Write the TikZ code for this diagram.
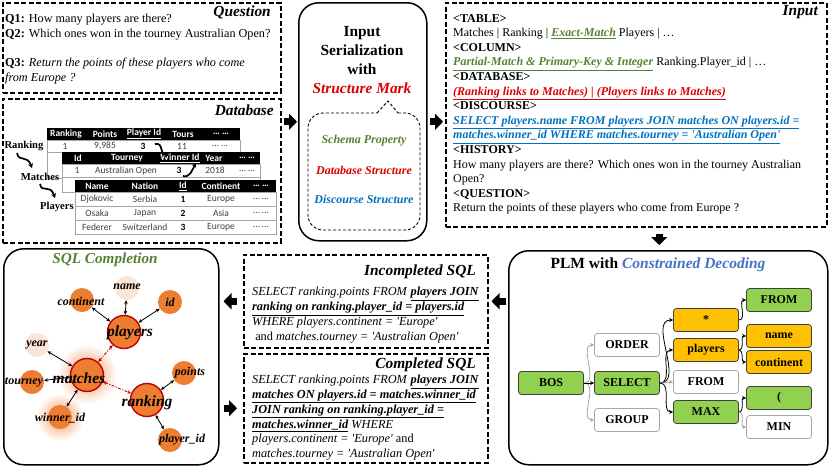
\documentclass[tikz,border=0pt]{standalone}
\usepackage{fontspec}
\setmainfont{Liberation Serif}[Ligatures=TeXOff]
\newfontfamily\calib{Carlito}
\usetikzlibrary{arrows.meta,calc}
\definecolor{sgreen}{RGB}{84,130,53}
\definecolor{sred}{RGB}{220,0,0}
\definecolor{sblue}{RGB}{0,112,192}
\definecolor{lblue}{RGB}{68,114,196}
\definecolor{ngreen}{RGB}{146,208,80}
\definecolor{norange}{RGB}{255,192,0}
\definecolor{corange}{RGB}{237,125,49}
\definecolor{clight}{RGB}{251,229,214}
\definecolor{cred}{RGB}{192,0,0}
\definecolor{tgray}{RGB}{64,64,64}
\definecolor{ngray}{RGB}{166,166,166}
\definecolor{glow}{RGB}{242,150,95}
\begin{document}
\begin{tikzpicture}[x=1pt,y=-1pt,
  dbox/.style={draw, line width=1.5pt, dash pattern=on 5pt off 2.5pt, inner sep=0pt, anchor=north west},
  rbox/.style={draw, line width=1.5pt, rounded corners=20pt, inner sep=0pt, anchor=north west},
  barrow/.style={line width=7pt, -{Triangle[length=8pt,width=16pt]}},
  ttl/.style={font=\fontsize{15.4}{17}\selectfont\bfseries\itshape, inner sep=0pt},
  body/.style={font=\fontsize{12}{14.6}\selectfont, align=left, inner sep=0pt, anchor=north west},
  sqlb/.style={font=\fontsize{12.3}{15}\selectfont, align=left, inner sep=0pt, anchor=north west},
  th/.style={font=\calib\fontsize{9.5}{10}\selectfont\bfseries, text=white, inner sep=0pt},
  td/.style={font=\calib\fontsize{9.5}{10}\selectfont, text=tgray, inner sep=0pt},
  tlab/.style={font=\fontsize{10.6}{12}\selectfont\bfseries, inner sep=0pt},
  sqa/.style={line width=1.7pt, -{Stealth[length=4.5pt,width=5pt]}},
  pn/.style={draw, rounded corners=3pt, minimum width=65pt, minimum height=23pt, inner sep=0pt, font=\fontsize{12}{13}\selectfont\bfseries, line width=0.8pt},
  gn/.style={pn, fill=ngreen, draw=black!75},
  on/.style={pn, fill=norange, draw=black!75},
  wn/.style={pn, fill=white, draw=ngray},
  pe/.style={line width=0.8pt, -{Stealth[length=4pt,width=4pt]}},
  pg/.style={pe, draw=ngray},
  cbig/.style={circle, draw=cred, line width=1.4pt, fill=corange, minimum size=33pt, inner sep=0pt},
  csm/.style={circle, fill=corange, minimum size=24pt, inner sep=0pt},
  gl/.style={font=\fontsize{12}{13}\selectfont\bfseries\itshape, inner sep=0pt},
  gbig/.style={font=\fontsize{15.5}{17}\selectfont\bfseries\itshape, inner sep=0pt},
  ga/.style={line width=0.8pt, {Stealth[length=4pt,width=3.5pt]}-{Stealth[length=4pt,width=3.5pt]}},
  redarr/.style={line width=0.9pt, draw=cred, dash pattern=on 3pt off 1.5pt on 1pt off 1.5pt, {Stealth[length=4pt,width=3.5pt]}-{Stealth[length=4pt,width=3.5pt]}}
]
\useasboundingbox (0,0) rectangle (830,467);
\newcommand{\sqt}{'}

% ---------- main boxes ----------
\node[dbox, minimum width=278pt, minimum height=90pt] (q) at (2,2) {};
\node[dbox, minimum width=278pt, minimum height=144pt] (db) at (2,98) {};
\node[rbox, minimum width=128pt, minimum height=238pt] (ser) at (298,2) {};
\node[dbox, minimum width=381pt, minimum height=224pt] (inp) at (445,2) {};
\node[rbox, minimum width=319pt, minimum height=214pt] (plm) at (508,250) {};
\node[dbox, minimum width=244pt, minimum height=93pt] (inc) at (243,254) {};
\node[dbox, minimum width=244pt, minimum height=109pt] (comp) at (243,353) {};
\node[rbox, minimum width=215pt, minimum height=216pt] (sqlc) at (3,248) {};

% ---------- block arrows ----------
\draw[barrow, shorten <=2pt, shorten >=1pt] (db.east |- ser.west) -- (ser.west);
\draw[barrow, shorten <=2pt, shorten >=2pt] (ser.east) -- (ser.east -| inp.west);
\draw[barrow, shorten <=6pt, shorten >=5pt] ([xshift=-9pt]plm.north |- inp.south) -- ([xshift=-9pt]plm.north);
\draw[barrow, shorten <=2pt, shorten >=3pt] (inc.east -| plm.west) -- (inc.east);
\draw[barrow, shorten <=6pt, shorten >=4pt] (inc.west) -- (inc.west -| sqlc.east);
\draw[barrow, shorten <=4pt, shorten >=6pt] (comp.west -| sqlc.east) -- (comp.west);

% ---------- Question ----------
\node[ttl, anchor=east] (qt) at (271,12) {Question};
\node[body, font=\fontsize{12.2}{14.7}\selectfont] (qb) at (5,14) {\textbf{Q1:} How many players are there?\\
\textbf{Q2:} Which ones won in the tourney Australian Open?\\
\mbox{}\\
\textbf{Q3:} \textit{Return the points of these players who come}\\
\textit{from Europe ?}};

% ---------- Database ----------
\node[ttl, anchor=east] (dt) at (274,110) {Database};
% Ranking table
\fill[black] (47,128) rectangle (240,140);
\draw[ngray, line width=0.6pt, fill=white] (47,140) rectangle (240,178);
\draw[ngray, line width=0.6pt] (47,152) -- (240,152);
\node[th] (rh1) at (66,134) {Ranking};
\node[th] (rh2) at (105,134) {Points};
\node[th] (rh3) at (144,134) {\underline{Player Id}};
\node[th] (rh4) at (183,134) {Tours};
\node[th] (rh5) at (221,134) {… …};
\node[td] (rd1) at (65,146) {1};
\node[td] (rd2) at (105,146) {9,985};
\node[td, text=black] (rd3) at (143,146) {\textbf{3}};
\node[td] (rd4) at (182,146) {11};
\node[td] (rd5) at (220,146) {… …};
% Matches table
\fill[black] (62,152) rectangle (260,164);
\draw[ngray, line width=0.6pt, fill=white] (62,164) rectangle (260,192);
\draw[ngray, line width=0.6pt] (62,177) -- (260,177);
\node[th] (mh1) at (78,158) {Id};
\node[th] (mh2) at (127,158) {Tourney};
\node[th] (mh3) at (180,158) {\underline{Winner Id}};
\node[th] (mh4) at (214,158) {Year};
\node[th] (mh5) at (247,158) {… …};
\node[td] (md1) at (77,170.5) {1};
\node[td] (md2) at (126,170.5) {Australian Open};
\node[td, text=black] (md3) at (179,170.5) {\textbf{3}};
\node[td] (md4) at (215,170.5) {2018};
\node[td] (md5) at (247,170.5) {… …};
% Players table
\fill[black] (75,180) rectangle (276,192);
\draw[ngray, line width=0.6pt, fill=white] (75,192) rectangle (276,234);
\draw[ngray, line width=0.6pt] (75,206) -- (276,206) (75,220) -- (276,220);
\node[th] (ph1) at (97,186) {Name};
\node[th] (ph2) at (145,186) {Nation};
\node[th] (ph3) at (183,186) {\underline{Id}};
\node[th] (ph4) at (221,186) {Continent};
\node[th] (ph5) at (261,186) {… …};
\node[td] (p11) at (97,199) {Djokovic};
\node[td] (p12) at (145,199) {Serbia};
\node[td, text=black] (p13) at (183,199) {\textbf{1}};
\node[td] (p14) at (221,199) {Europe};
\node[td] (p15) at (261,199) {… …};
\node[td] (p21) at (97,213) {Osaka};
\node[td] (p22) at (145,213) {Japan};
\node[td, text=black] (p23) at (183,213) {\textbf{2}};
\node[td] (p24) at (221,213) {Asia};
\node[td] (p25) at (261,213) {… …};
\node[td] (p31) at (97,227) {Federer};
\node[td] (p32) at (145,227) {Switzerland};
\node[td, text=black] (p33) at (183,227) {\textbf{3}};
\node[td] (p34) at (221,227) {Europe};
\node[td] (p35) at (261,227) {… …};
% table labels and link arrows
\node[tlab] (rl) at (24,146) {Ranking};
\node[tlab] (ml) at (40,177) {Matches};
\node[tlab] (pl2) at (57,207) {Players};
\coordinate (w1a) at (17,153);
\coordinate (w1b) at (32,168);
\coordinate (w2a) at (40,184);
\coordinate (w2b) at (55,198);
\coordinate (w3a) at (155,144);
\coordinate (w3b) at (169,155);
\coordinate (w4a) at (183,176);
\coordinate (w4b) at (196,163);
\draw[sqa] (w1a) .. controls (19,163) and (27,154) .. (w1b);
\draw[sqa] (w2a) .. controls (42,194) and (50,183) .. (w2b);
\draw[sqa] (w3a) .. controls (164,142) and (159,155) .. (w3b);
\draw[sqa] (w4a) .. controls (190,178) and (192,170) .. (w4b);

% ---------- Input Serialization ----------
\node[font=\fontsize{15.4}{19}\selectfont\bfseries, align=center, inner sep=0pt] (stl) at (362,60) {Input\\ Serialization\\ with\\ \textcolor{sred}{\textit{Structure Mark}}};
\draw[line width=0.9pt, dash pattern=on 3pt off 2pt, rounded corners=15pt] (398,113) -- (420,113) -- (420,230) -- (308,230) -- (308,113) -- (377,113);
\draw[line width=0.9pt, dash pattern=on 3pt off 2pt] (377,113) -- (388,101) -- (398,113);
\node[font=\fontsize{12}{13}\selectfont\bfseries\itshape, text=sgreen, inner sep=0pt] (sp) at (364,141) {Schema Property};
\node[font=\fontsize{12}{13}\selectfont\bfseries\itshape, text=sred, inner sep=0pt] (ds) at (364,170) {Database Structure};
\node[font=\fontsize{12}{13}\selectfont\bfseries\itshape, text=sblue, inner sep=0pt] (dcs) at (364,199) {Discourse Structure};

% ---------- Input ----------
\node[ttl, anchor=east] (it) at (818,12) {Input};
\node[body] (ib) at (453,14) {\textbf{<TABLE>}\\
Matches | Ranking | \textcolor{sgreen}{\underline{\textbf{\textit{Exact-Match}}}} Players | …\\
\textbf{<COLUMN>}\\
\textcolor{sgreen}{\underline{\textbf{\textit{Partial-Match \& Primary-Key \& Integer}}}} Ranking.Player\_id | …\\
\textbf{<DATABASE>}\\
\textcolor{sred}{\underline{\textbf{\textit{(Ranking links to Matches) | (Players links to Matches)}}}}\\
\textbf{<DISCOURSE>}\\
\textcolor{sblue}{\underline{\textbf{\textit{SELECT players.name FROM players JOIN matches ON players.id =}}}}\\
\textcolor{sblue}{\underline{\textbf{\textit{matches.winner\_id WHERE matches.tourney = \sqt Australian Open\sqt}}}}\\
\textbf{<HISTORY>}\\
How many players are there? Which ones won in the tourney Australian\\
Open?\\
\textbf{<QUESTION>}\\
Return the points of these players who come from Europe ?};

% ---------- Incompleted SQL ----------
\node[ttl, anchor=east] (inct) at (476,272) {Incompleted SQL};
\node[sqlb] (incb) at (252,287) {\textit{SELECT ranking.points FROM} \underline{\textbf{\textit{players JOIN}}}\\
\underline{\textbf{\textit{ranking on ranking.player\_id = players.id}}}\\
\textit{WHERE players.continent = \sqt Europe\sqt}\\
\ and \textit{matches.tourney = \sqt Australian Open\sqt}};

% ---------- Completed SQL ----------
\node[ttl, anchor=east] (compt) at (476,365) {Completed SQL};
\node[sqlb, font=\fontsize{12.3}{14.8}\selectfont] (compb) at (252,375) {\textit{SELECT ranking.points FROM} \underline{\textbf{\textit{players JOIN}}}\\
\underline{\textbf{\textit{matches ON players.id = matches.winner\_id}}}\\
\underline{\textbf{\textit{JOIN ranking on ranking.player\_id =}}}\\
\underline{\textbf{\textit{matches.winner\_id}}} \textit{WHERE}\\
\textit{players.continent = \sqt Europe\sqt} and\\
\textit{matches.tourney = \sqt Australian Open\sqt}};

% ---------- PLM ----------
\node[font=\fontsize{15.5}{17}\selectfont\bfseries, inner sep=0pt] (plmt) at (658,265) {PLM with \textcolor{lblue}{\textit{Constrained Decoding}}};
\node[gn] (bos) at (551,383) {BOS};
\node[wn] (ord) at (627,345) {ORDER};
\node[gn] (sel) at (627,383) {SELECT};
\node[wn] (grp) at (627,420) {GROUP};
\node[on] (star) at (706,320) {*};
\node[on] (ply) at (706,350) {players};
\node[wn] (fr1) at (706,382) {FROM};
\node[gn] (mx) at (706,412) {MAX};
\node[gn] (fr2) at (779,300) {FROM};
\node[on] (nme) at (779,336) {name};
\node[on] (cnt) at (779,362) {continent};
\node[gn] (par) at (779,398) {(};
\node[wn] (mn) at (779,427) {MIN};
\draw[pg] (bos.east) to[out=0,in=180] (ord.west);
\draw[pg] (bos.east) to[out=0,in=180] (grp.west);
\draw[pe] (bos.east) -- (sel.west);
\draw[pe] (sel.east) to[out=0,in=180] (star.west);
\draw[pe] (sel.east) to[out=0,in=180] (ply.west);
\draw[pg] (sel.east) to[out=0,in=180] (fr1.west);
\draw[pe] (sel.east) to[out=0,in=180] (mx.west);
\draw[pe] (star.east) to[out=0,in=180] (fr2.west);
\draw[pe] (ply.east) to[out=0,in=180] (nme.west);
\draw[pe] (ply.east) to[out=0,in=180] (cnt.west);
\draw[pe] (mx.east) to[out=0,in=180] (par.west);
\draw[pg] (mx.east) to[out=0,in=180] (mn.west);

% ---------- SQL Completion ----------
\node[font=\fontsize{15.2}{16}\selectfont\bfseries\itshape, text=sgreen, inner sep=0pt] (sct) at (105,260) {SQL Completion};
\shade[inner color=glow, outer color=white] (87,374) circle (30pt);
\shade[inner color=glow, outer color=white] (60,417) circle (24pt);
\node[csm, fill=clight] (cn) at (127,288) {};
\node[csm] (cc) at (82,300) {};
\node[csm] (ci) at (170,302) {};
\node[csm, fill=clight] (cy) at (37,345) {};
\node[csm] (ct) at (32,382) {};
\node[csm] (cw) at (60,417) {};
\node[csm] (cp) at (184,373) {};
\node[csm] (cq) at (170,440) {};
\node[cbig] (cpl) at (124,332) {};
\node[cbig] (cma) at (87,375) {};
\node[cbig] (cra) at (147,400) {};
\draw[ga] (cc) -- (cpl);
\draw[ga] (cn) -- (cpl);
\draw[ga] (ci) -- (cpl);
\draw[ga] (cy) -- (cma);
\draw[ga] (ct) -- (cma);
\draw[ga] (cw) -- (cma);
\draw[ga] (cp) -- (cra);
\draw[ga] (cq) -- (cra);
\draw[redarr] (cma) -- (cpl);
\draw[redarr] (cma) -- (cra);
\node[gl] (ln) at (127,287) {name};
\node[gl] (lc) at (81,301) {continent};
\node[gl] (li) at (170,302) {id};
\node[gl] (ly) at (37,345) {year};
\node[gl] (lt) at (24,382) {tourney};
\node[gl] (lw) at (60,418) {winner\_id};
\node[gl] (lp) at (190,373) {points};
\node[gl] (lq) at (182,440) {player\_id};
\node[gbig] (lpl) at (130,333) {players};
\node[gbig] (lma) at (79,378) {matches};
\node[gbig] (lra) at (147,403) {ranking};
\end{tikzpicture}
\end{document}
